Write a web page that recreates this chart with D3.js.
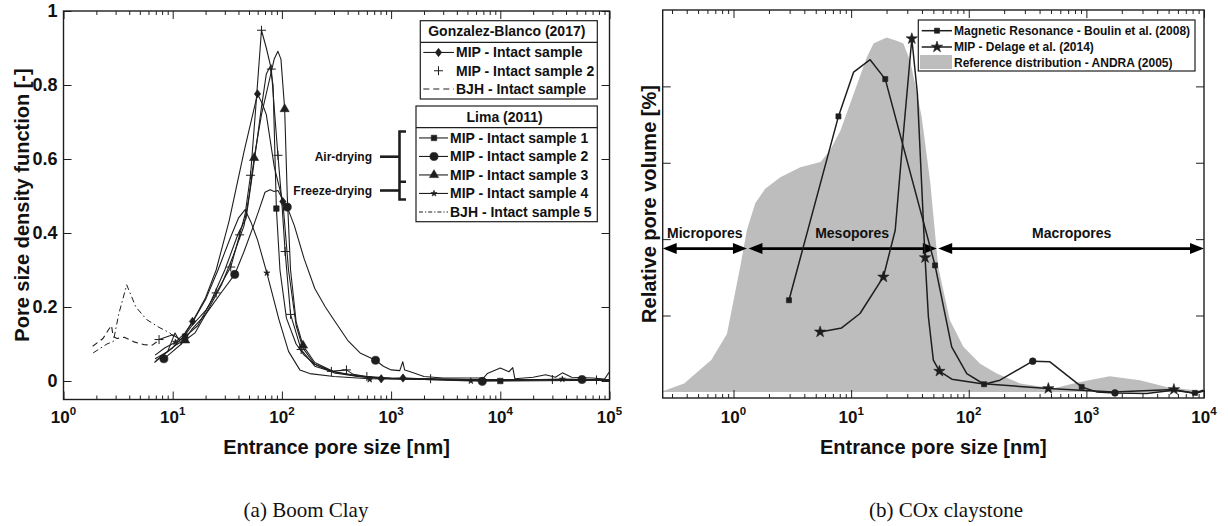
<!DOCTYPE html>
<html>
<head>
<meta charset="utf-8">
<script src="https://cdn.jsdelivr.net/npm/d3@7"></script>
<style>
  body { margin: 0; background: #fff; }
  svg text { font-family: "Liberation Sans", Arial, Helvetica, sans-serif; font-weight: bold; fill: #111; }
  svg text.caption { font-family: "Liberation Serif", "Times New Roman", serif; font-weight: normal; }
</style>
</head>
<body>
<svg id="chart" width="1228" height="526"></svg>
<script>
// ---------------- Boom Clay: pore size density function ----------------
const bcXTicks = [1, 10, 100, 1000, 1e4, 1e5];
const bcYTicks = [0, 0.2, 0.4, 0.6, 0.8, 1];

// Gonzalez-Blanco (2017)
const gbMip = [[7,0.055],[10,0.09],[12.5,0.12],[15.2,0.161],[20,0.225],[25,0.3],[33,0.435],[45,0.62],[59.8,0.776],[66,0.75],[72,0.72],[85,0.58],[102,0.485],[115,0.3],[135,0.15],[155,0.09],[200,0.045],[300,0.022],[500,0.012],[812,0.006],[1285,0.008],[3000,0.004],[6840,0.0],[20000,0.003],[56000,0.004],[100000,0.003]];
const gbMipMarks = [[15.2,0.161],[59.8,0.776],[102,0.485],[812,0.006],[1285,0.008]];
const gbMip2 = [[7.5,0.112],[10,0.125],[12,0.11],[15,0.15],[20,0.19],[25,0.238],[34,0.308],[41,0.395],[46,0.45],[51.6,0.556],[58,0.75],[65,0.948],[72,0.9],[80,0.843],[86,0.72],[92,0.61],[100,0.48],[107,0.35],[120,0.18],[150,0.085],[200,0.04],[284,0.026],[390,0.03],[450,0.018],[600,0.012],[1000,0.008],[2300,0.006],[5000,0.004],[30000,0.004],[100000,0.003]];
const gbMip2Marks = [[7.5,0.112],[25,0.238],[34,0.308],[41,0.395],[51.6,0.556],[65,0.948],[80,0.843],[92,0.61],[107,0.35],[120,0.18],[150,0.085],[284,0.026],[390,0.03],[600,0.012],[2300,0.006],[30000,0.004],[76000,0.003]];
const gbBjh = [[1.85,0.094],[2.3,0.115],[2.6,0.14],[2.75,0.15],[2.85,0.12],[3.1,0.115],[3.6,0.118],[4.5,0.105],[5.5,0.098],[6.5,0.097],[7.5,0.11]];

// Lima (2011)
const limaMip1 = [[6.8,0.05],[9,0.08],[10.5,0.13],[12,0.1],[13,0.12],[17,0.15],[22,0.21],[30,0.3],[40,0.4],[47,0.44],[55,0.58],[65,0.74],[72,0.83],[78,0.85],[83,0.8],[89,0.466],[96,0.3],[110,0.17],[135,0.1],[160,0.07],[200,0.045],[300,0.025],[500,0.014],[800,0.008],[2000,0.004],[10000,0.0],[100000,0.002]];
const limaMip1Marks = [[13,0.12],[89,0.466],[10000,0.0]];
const limaMip2 = [[8.3,0.06],[10,0.08],[12,0.1],[15,0.14],[20,0.18],[28,0.24],[37,0.288],[45,0.35],[55,0.42],[63,0.47],[70,0.51],[78,0.517],[85,0.512],[92,0.515],[102,0.49],[112,0.47],[130,0.42],[160,0.33],[200,0.25],[250,0.2],[300,0.165],[400,0.11],[520,0.076],[720,0.056],[850,0.04],[1000,0.03],[1200,0.028],[1280,0.052],[1330,0.03],[1500,0.025],[2000,0.012],[3000,0.008],[7000,0.008],[7600,0.02],[10000,0.035],[12000,0.025],[13000,0.036],[13600,0.006],[20000,0.01],[26000,0.017],[32000,0.01],[37000,0.022],[45000,0.01],[70000,0.008],[90000,0.005],[100000,0.025]];
const limaMip2Marks = [[8.3,0.06],[37,0.288],[112,0.47],[720,0.056],[6840,-0.001],[56000,0.004]];
const limaMip3 = [[6.9,0.06],[9,0.08],[11,0.1],[13,0.11],[16,0.13],[20,0.18],[28,0.26],[36,0.34],[45,0.42],[50,0.5],[55.7,0.603],[65,0.72],[75,0.8],[85,0.87],[92,0.891],[98,0.87],[106,0.735],[112,0.5],[120,0.3],[135,0.16],[156,0.096],[200,0.05],[300,0.025],[500,0.012],[1000,0.006],[5000,0.004],[100000,0.003]];
const limaMip3Marks = [[13,0.11],[55.7,0.603],[106,0.735],[156,0.096]];
const limaMip4 = [[6.9,0.07],[8.5,0.09],[10.6,0.105],[13,0.13],[16,0.17],[20,0.22],[26,0.3],[34,0.39],[40,0.44],[46,0.463],[52,0.43],[60,0.38],[72.8,0.292],[94,0.166],[115,0.08],[146,0.03],[180,0.02],[300,0.012],[637,0.006],[2000,0.004],[5370,0.0],[37000,0.005],[100000,0.003]];
const limaMip4Marks = [[10.6,0.105],[72.8,0.292],[637,0.004],[5370,0.0],[37000,0.005]];
const limaBjh5 = [[1.87,0.076],[2.5,0.1],[2.86,0.107],[3.2,0.18],[3.79,0.26],[4.6,0.2],[5.77,0.166],[7.5,0.145],[9.4,0.13],[10.5,0.116]];

const gbLegendRows = ["MIP - Intact sample", "MIP - Intact sample 2", "BJH - Intact sample"];
const limaLegendRows = ["MIP - Intact sample 1", "MIP - Intact sample 2", "MIP - Intact sample 3", "MIP - Intact sample 4", "BJH - Intact sample 5"];

// ---------------- COx claystone: relative pore volume ----------------
const coxXTicks = [1, 10, 100, 1000, 1e4];
const coxYTicks = [1, 2, 3, 4];
const andraRef = [[0.25,0.01],[0.38,0.11],[0.65,0.42],[0.88,0.76],[1.14,1.64],[1.30,2.12],[1.53,2.47],[1.86,2.66],[2.5,2.81],[3.7,2.94],[5.5,3.01],[6.6,3.16],[8.1,3.42],[10.5,3.9],[13.6,4.38],[15.5,4.56],[20,4.64],[24,4.6],[27.8,4.56],[31.7,4.34],[35,4.03],[39.8,3.6],[47,2.75],[55,1.64],[69,0.94],[90,0.59],[125,0.37],[173,0.24],[273,0.11],[520,0.044],[880,0.13],[1580,0.205],[2850,0.153],[4800,0.065],[10000,0.01]];
const boulinNmr = [[2.96,1.2],[7.8,3.607],[10.5,4.187],[14.5,4.349],[19.5,4.095],[51.7,1.656],[71.6,0.589],[96.2,0.24],[135,0.1],[184,0.153],[350,0.402],[490,0.393],[912,0.065],[1220,0.0],[1750,-0.013],[3250,-0.02],[5470,0.022],[8370,-0.013],[9840,0.022]];
const boulinSquares = [[2.96,1.2],[7.8,3.607],[19.5,4.095],[51.7,1.656],[135,0.1],[912,0.065],[8370,-0.013]];
const boulinDots = [[350,0.402],[1750,-0.013]];
const delageMip = [[5.45,0.785],[8.3,0.837],[11.9,1.026],[18.8,1.505],[23.7,2.116],[27.8,3.38],[32.8,4.624],[36.6,3.904],[42.5,1.758],[45.4,0.98],[50,0.415],[56.3,0.271],[71.8,0.166],[125,0.11],[475,0.044],[1700,0.0],[5550,0.031],[8370,-0.02],[10000,0.013]];
const delageStars = [[5.45,0.785],[18.8,1.505],[32.8,4.624],[42.5,1.758],[56.3,0.271],[475,0.044],[5550,0.031]];
const poreClassNames = ["Micropores", "Mesopores", "Macropores"];
const poreClassFrom = [0.25, 1.34, 55];
const poreClassTo = [1.3, 53.5, 10000];
const poreClassLabelAt = [0.57, 10.2, 750];
const poreClassLevel = 1.876;
const coxLegendRows = ["Magnetic Resonance - Boulin et al. (2008)", "MIP - Delage et al. (2014)", "Reference distribution - ANDRA (2005)"];

// ---------------- drawing ----------------
const svg = d3.select("#chart");
const INK = "#1e1e1e";

const markerPaths = {
  diamond: "M0,-4.2L3.2,0L0,4.2L-3.2,0Z",
  plus: "M-4.5,0H4.5M0,-4.5V4.5",
  square: d3.symbol(d3.symbolSquare, 30)(),
  circle: d3.symbol(d3.symbolCircle, 52)(),
  triangle: d3.symbol(d3.symbolTriangle, 36)(),
  smallStar: d3.symbol(d3.symbolStar, 12)(),
  bigStar: d3.symbol(d3.symbolStar, 40)(),
  rsquare: d3.symbol(d3.symbolSquare, 26)(),
  rdot: d3.symbol(d3.symbolCircle, 36)()
};

function drawMarkers(g, pts, x, y, kind) {
  const stroked = kind === "plus";
  g.selectAll(null).data(pts).join("path")
    .attr("d", markerPaths[kind])
    .attr("transform", d => `translate(${x(d[0])},${y(d[1])})`)
    .attr("fill", stroked ? "none" : INK)
    .attr("stroke", INK)
    .attr("stroke-width", stroked ? 1 : 0.6);
}

function drawLine(g, pts, x, y, opts = {}) {
  const line = d3.line().x(d => x(d[0])).y(d => y(d[1]));
  g.append("path").datum(pts)
    .attr("d", line)
    .attr("fill", "none")
    .attr("stroke", INK)
    .attr("stroke-width", opts.width || 1.1)
    .attr("stroke-linejoin", "round")
    .attr("stroke-dasharray", opts.dash || null);
}

function logParts(domain) {
  const majors = [], minors = [];
  for (let e = Math.floor(Math.log10(domain[0])); e <= Math.ceil(Math.log10(domain[1])); e++) {
    const p = Math.pow(10, e);
    if (p >= domain[0] * 0.999 && p <= domain[1] * 1.001) majors.push(p);
    for (let k = 2; k < 10; k++) {
      const v = k * p;
      if (v > domain[0] && v < domain[1]) minors.push(v);
    }
  }
  return { majors, minors };
}

function frame(g, x, y, majorsX, yTicks, yLabels) {
  const [x0, x1] = x.range();
  const [y0, y1] = y.range();
  const { minors } = logParts(x.domain());
  const clean = s => s.call(a => a.select(".domain").remove())
                       .call(a => a.selectAll("line").attr("stroke", INK).attr("stroke-width", 1));
  g.append("g").attr("transform", `translate(0,${y0})`)
    .call(d3.axisBottom(x).tickValues(minors).tickSizeInner(-4).tickSizeOuter(0).tickFormat("")).call(clean);
  g.append("g").attr("transform", `translate(0,${y0})`)
    .call(d3.axisBottom(x).tickValues(majorsX).tickSizeInner(-8).tickSizeOuter(0).tickFormat("")).call(clean);
  g.append("g").attr("transform", `translate(0,${y1})`)
    .call(d3.axisTop(x).tickValues(minors).tickSizeInner(-4).tickSizeOuter(0).tickFormat("")).call(clean);
  g.append("g").attr("transform", `translate(0,${y1})`)
    .call(d3.axisTop(x).tickValues(majorsX).tickSizeInner(-8).tickSizeOuter(0).tickFormat("")).call(clean);
  g.append("g").attr("transform", `translate(${x0},0)`)
    .call(d3.axisLeft(y).tickValues(yTicks).tickSizeInner(-8).tickSizeOuter(0).tickFormat("")).call(clean);
  g.append("g").attr("transform", `translate(${x1},0)`)
    .call(d3.axisRight(y).tickValues(yTicks).tickSizeInner(-8).tickSizeOuter(0).tickFormat("")).call(clean);

  g.append("rect").attr("x", x0).attr("y", y1).attr("width", x1 - x0).attr("height", y0 - y1)
    .attr("fill", "none").attr("stroke", INK).attr("stroke-width", 1.4);

  // decade labels 10^n
  const lab = g.append("g").selectAll("text").data(majorsX).join("text")
    .attr("x", d => x(d)).attr("y", 422.5).attr("text-anchor", "middle").attr("font-size", 17);
  lab.append("tspan").text("10");
  lab.append("tspan").attr("dy", -7.5).attr("font-size", 11.5).text(d => Math.round(Math.log10(d)));

  if (yLabels) {
    g.append("g").selectAll("text").data(yTicks).join("text")
      .attr("x", x0 - 6).attr("y", d => y(d)).attr("dy", "0.35em")
      .attr("text-anchor", "end").attr("font-size", 18).text(d => String(d));
  }
}

function axisTitles(cx, cy, xTitle, yTitle, ylx) {
  svg.append("text").attr("x", cx).attr("y", 454).attr("text-anchor", "middle")
    .attr("font-size", 20).text(xTitle);
  svg.append("text").attr("transform", `translate(${ylx},${cy}) rotate(-90)`)
    .attr("text-anchor", "middle").attr("dy", "0.35em").attr("font-size", 20).text(yTitle);
}

// ===== left panel =====
const xL = d3.scaleLog().domain([1, 1e5]).range([63.5, 609.5]);
const yL = d3.scaleLinear().domain([-0.05, 1]).range([399.5, 11]);
const gL = svg.append("g");
svg.append("clipPath").attr("id", "clipL").append("rect")
  .attr("x", 63.5).attr("y", 11).attr("width", 546).attr("height", 388.5);
const cL = gL.append("g").attr("clip-path", "url(#clipL)");

drawLine(cL, gbBjh, xL, yL, { dash: "6,4" });
drawLine(cL, limaBjh5, xL, yL, { dash: "6,3,1.5,3", width: 1 });
drawLine(cL, limaMip2, xL, yL);
drawLine(cL, limaMip4, xL, yL);
drawLine(cL, gbMip, xL, yL);
drawLine(cL, limaMip1, xL, yL);
drawLine(cL, limaMip3, xL, yL);
drawLine(cL, gbMip2, xL, yL);
drawMarkers(cL, gbMipMarks, xL, yL, "diamond");
drawMarkers(cL, gbMip2Marks, xL, yL, "plus");
drawMarkers(cL, limaMip1Marks, xL, yL, "square");
drawMarkers(cL, limaMip2Marks, xL, yL, "circle");
drawMarkers(cL, limaMip3Marks, xL, yL, "triangle");
drawMarkers(cL, limaMip4Marks, xL, yL, "smallStar");

frame(gL, xL, yL, bcXTicks, bcYTicks, true);
axisTitles(336.5, 205, "Entrance pore size [nm]", "Pore size density function [-]", 22);

// legend boxes (left panel)
function legendBox(g, box, title, rows, kinds) {
  const h = box.titleH + rows.length * box.rowH + box.pad;
  g.append("rect").attr("x", box.x).attr("y", box.y).attr("width", box.w).attr("height", h)
    .attr("fill", "#fff").attr("stroke", INK).attr("stroke-width", 1.2);
  g.append("line").attr("x1", box.x).attr("x2", box.x + box.w)
    .attr("y1", box.y + box.titleH).attr("y2", box.y + box.titleH)
    .attr("stroke", INK).attr("stroke-width", 1.2);
  g.append("text").attr("x", box.x + box.w / 2 - 2).attr("y", box.y + box.titleH / 2)
    .attr("dy", "0.35em").attr("text-anchor", "middle").attr("font-size", 14).text(title);
  rows.forEach((r, i) => {
    const cy = box.y + box.titleH + box.rowH * (i + 0.5) + 1;
    const k = kinds[i];
    if (k.line) {
      g.append("line").attr("x1", box.x + 3).attr("x2", box.textX - 2).attr("y1", cy).attr("y2", cy)
        .attr("stroke", INK).attr("stroke-width", 1.1).attr("stroke-dasharray", k.dash || null);
    }
    if (k.marker) drawMarkers(g, [[0, 0]], () => box.markX, () => cy, k.marker);
    g.append("text").attr("x", box.textX).attr("y", cy).attr("dy", "0.35em")
      .attr("font-size", 14).text(r);
  });
}
const lg = svg.append("g");
legendBox(lg, { x: 420.3, y: 20.7, w: 177, titleH: 21.6, rowH: 18.3, pad: 1.8, textX: 456, markX: 438.5 },
  "Gonzalez-Blanco (2017)", gbLegendRows,
  [{ line: true, marker: "diamond" }, { line: false, marker: "plus" }, { line: true, dash: "6,4" }]);
legendBox(lg, { x: 416, y: 106, w: 181.3, titleH: 21.7, rowH: 18.5, pad: 1.5, textX: 450, markX: 434 },
  "Lima (2011)", limaLegendRows,
  [{ line: true, marker: "square" }, { line: true, marker: "circle" }, { line: true, marker: "triangle" },
   { line: true, marker: "smallStar" }, { line: true, dash: "4,2,1.2,2" }]);

// drying method brackets
const br = svg.append("g").attr("stroke", INK).attr("stroke-width", 2.6).attr("fill", "none");
br.append("path").attr("d", "M406,131.5H399.5V181.7H406M399.5,181.7V199.5H406");
br.append("line").attr("x1", 380).attr("x2", 399.5).attr("y1", 156.7).attr("y2", 156.7);
br.append("line").attr("x1", 380).attr("x2", 399.5).attr("y1", 190.5).attr("y2", 190.5);
svg.append("text").attr("x", 372).attr("y", 156.7).attr("dy", "0.35em").attr("text-anchor", "end")
  .attr("font-size", 12).text("Air-drying");
svg.append("text").attr("x", 372).attr("y", 190.5).attr("dy", "0.35em").attr("text-anchor", "end")
  .attr("font-size", 12).text("Freeze-drying");

// ===== right panel =====
const xR = d3.scaleLog().domain([0.25, 1e4]).range([662.7, 1204]);
const yR = d3.scaleLinear().domain([-0.08, 5]).range([398, 10]);
const gR = svg.append("g");
svg.append("clipPath").attr("id", "clipR").append("rect")
  .attr("x", 662.7).attr("y", 10).attr("width", 541.3).attr("height", 388);
const cR = gR.append("g").attr("clip-path", "url(#clipR)");

cR.append("path").datum(andraRef)
  .attr("d", d3.area().x(d => xR(d[0])).y0(yR(0)).y1(d => yR(d[1])))
  .attr("fill", "#bdbdbd");

// pore class arrows
const arrowY = yR(poreClassLevel);
const arrows = cR.append("g");
poreClassNames.forEach((name, i) => {
  const a = xR(poreClassFrom[i]), b = xR(poreClassTo[i]);
  arrows.append("line").attr("x1", a + 6).attr("x2", b - 6).attr("y1", arrowY).attr("y2", arrowY)
    .attr("stroke", "#000").attr("stroke-width", 2.6);
  arrows.append("path").attr("d", `M${a},${arrowY}l14,-5.5v11z`).attr("fill", "#000");
  arrows.append("path").attr("d", `M${b},${arrowY}l-14,-5.5v11z`).attr("fill", "#000");
  arrows.append("text").attr("x", xR(poreClassLabelAt[i])).attr("y", arrowY - 11)
    .attr("text-anchor", "middle").attr("font-size", 14).text(name);
});

drawLine(cR, boulinNmr, xR, yR, { width: 1.5 });
drawLine(cR, delageMip, xR, yR, { width: 1.5 });
drawMarkers(cR, boulinSquares, xR, yR, "rsquare");
drawMarkers(cR, boulinDots, xR, yR, "rdot");
drawMarkers(cR, delageStars, xR, yR, "bigStar");

frame(gR, xR, yR, coxXTicks, coxYTicks, false);
axisTitles(933.3, 204, "Entrance pore size [nm]", "Relative pore volume [%]", 648.5);

// legend (right panel)
const rl = svg.append("g");
rl.append("rect").attr("x", 918.3).attr("y", 20).attr("width", 276.7).attr("height", 51)
  .attr("fill", "#fff").attr("stroke", INK).attr("stroke-width", 1.2);
const rowY = [30.7, 47, 63.2];
coxLegendRows.forEach((r, i) => {
  if (i < 2) {
    rl.append("line").attr("x1", 921.7).attr("x2", 952).attr("y1", rowY[i]).attr("y2", rowY[i])
      .attr("stroke", INK).attr("stroke-width", 1.5);
    drawMarkers(rl, [[0, 0]], () => 937, () => rowY[i], i === 0 ? "rsquare" : "bigStar");
  } else {
    rl.append("rect").attr("x", 920).attr("y", 55).attr("width", 32).attr("height", 14).attr("fill", "#bdbdbd");
  }
  rl.append("text").attr("x", 954).attr("y", rowY[i]).attr("dy", "0.35em").attr("font-size", 12).text(r);
});

// sub-figure captions
svg.append("text").attr("class", "caption").attr("x", 306).attr("y", 517).attr("text-anchor", "middle")
  .attr("font-size", 21).text("(a) Boom Clay");
svg.append("text").attr("class", "caption").attr("x", 946).attr("y", 517).attr("text-anchor", "middle")
  .attr("font-size", 21).text("(b) COx claystone");
</script>
</body>
</html>
